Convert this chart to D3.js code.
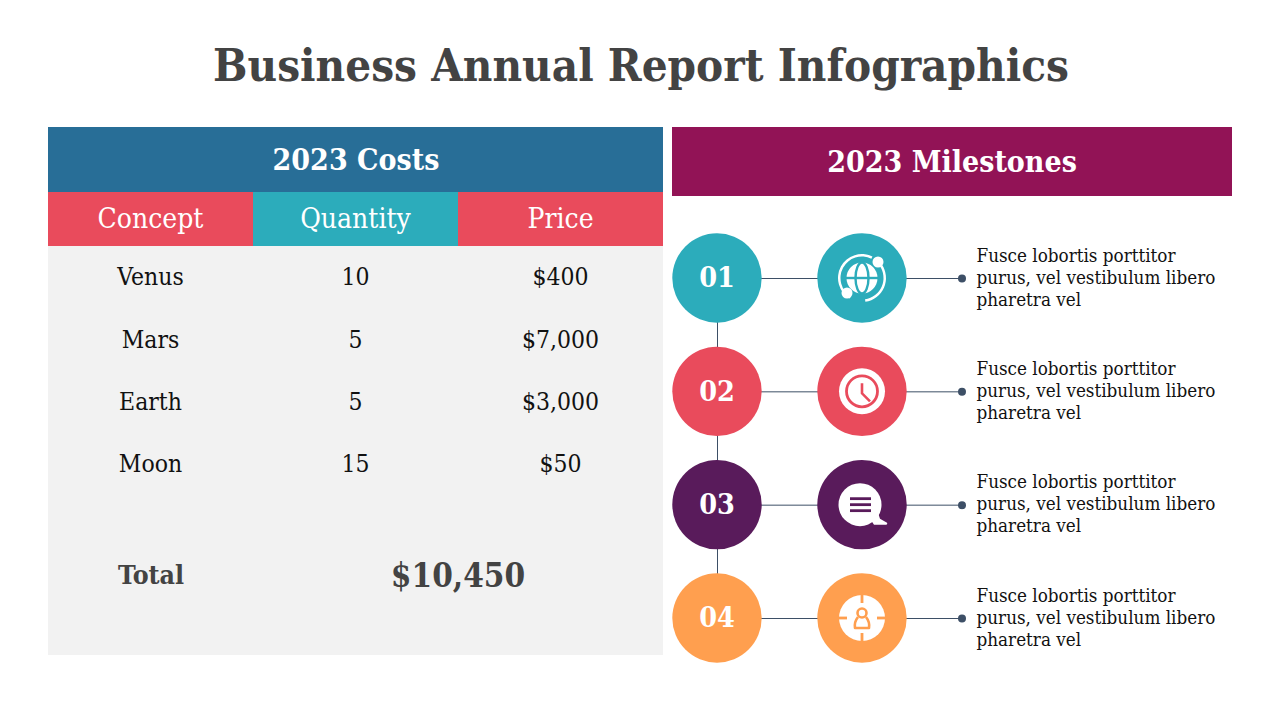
<!DOCTYPE html>
<html>
<head>
<meta charset="utf-8">
<script src="https://cdn.jsdelivr.net/npm/d3@7"></script>
<style>
  html, body { margin: 0; padding: 0; background: #fff; }
  text { font-family: "DejaVu Serif Condensed", "DejaVu Serif", serif; }
</style>
</head>
<body>
<div class="chart"></div>
<script>
var title = "Business Annual Report Infographics";
var costsTitle = "2023 Costs";
var milestonesTitle = "2023 Milestones";

var columns = ["Concept", "Quantity", "Price"];
var concepts = ["Venus", "Mars", "Earth", "Moon"];
var quantities = ["10", "5", "5", "15"];
var prices = ["$400", "$7,000", "$3,000", "$50"];
var totalLabel = "Total";
var totalValue = "$10,450";

var milestones = ["01", "02", "03", "04"];
var icons = ["globe", "clock", "chat", "person"];
var milestoneLines = ["Fusce lobortis porttitor", "purus, vel vestibulum libero", "pharetra vel"];

var teal = "#2cacbb", red = "#e94b5c", purple = "#591b5b", orange = "#ff9f4f";
var darkText = "#434343", lineColor = "#3d4f66";
var milestoneColors = [teal, red, purple, orange];
var columnColors = [red, teal, red];

var svg = d3.select(".chart")
  .append("svg")
  .attr("width", 1280)
  .attr("height", 720)
  .style("display", "block");

var xColumn = d3.scaleBand().domain(columns).range([48, 663]);
var yRow = d3.scalePoint().domain(concepts).range([277, 464]);
var yMilestone = d3.scalePoint().domain(milestones).range([278, 618]);

// Icons are all drawn around (0, 0), the centre of the circle
var drawIcon = {
  globe: function(g, color) {
    g.append("circle").attr("r", 15.5).attr("fill", "#fff");
    g.append("ellipse").attr("rx", 6.5).attr("ry", 15.5)
      .attr("fill", "none").attr("stroke", color).attr("stroke-width", 2.4);
    g.append("line").attr("x1", -16).attr("x2", 16)
      .attr("stroke", color).attr("stroke-width", 2.4);
    var orbit = d3.arc().innerRadius(21.5).outerRadius(24);
    g.append("path")
      .attr("d", orbit({startAngle: -2.6, endAngle: 0.45}))
      .attr("fill", "#fff");
    g.append("path")
      .attr("d", orbit({startAngle: 0.95, endAngle: 3.0}))
      .attr("fill", "#fff");
    g.append("circle").attr("cx", 16).attr("cy", -16).attr("r", 5.5).attr("fill", "#fff");
    g.append("circle").attr("cx", -15).attr("cy", 15).attr("r", 5.5).attr("fill", "#fff");
  },
  clock: function(g, color) {
    g.append("circle").attr("r", 23).attr("fill", "#fff");
    g.append("circle").attr("r", 15.5)
      .attr("fill", "none").attr("stroke", color).attr("stroke-width", 2.8);
    g.append("path")
      .attr("d", "M0,-8V2L8,10")
      .attr("fill", "none").attr("stroke", color).attr("stroke-width", 2.6);
  },
  chat: function(g, color) {
    g.append("circle").attr("cx", -2).attr("r", 21.5).attr("fill", "#fff");
    g.append("path")
      .attr("d", "M8,14L16,8L18,14L25,18Q26,20 23,20L12,20Z")
      .attr("fill", "#fff");
    [-6, 0, 6].forEach(function(y) {
      g.append("line")
        .attr("x1", -12).attr("x2", 9)
        .attr("y1", y).attr("y2", y)
        .attr("stroke", color).attr("stroke-width", 2.8);
    });
  },
  person: function(g, color) {
    g.append("circle").attr("r", 23).attr("fill", "#fff");
    [[0, -23, 0, -15], [0, 15, 0, 23], [-23, 0, -15, 0], [15, 0, 23, 0]].forEach(function(t) {
      g.append("line")
        .attr("x1", t[0]).attr("y1", t[1])
        .attr("x2", t[2]).attr("y2", t[3])
        .attr("stroke", color).attr("stroke-width", 2.8);
    });
    g.append("circle").attr("cy", -5).attr("r", 4.5)
      .attr("fill", "none").attr("stroke", color).attr("stroke-width", 2.6);
    g.append("path")
      .attr("d", "M-4,-1Q-8,4 -7,10H7Q8,4 4,-1")
      .attr("fill", "none").attr("stroke", color).attr("stroke-width", 2.6)
      .attr("stroke-linejoin", "round");
  }
};

// Title
svg.append("text")
  .attr("x", 641)
  .attr("y", 81)
  .attr("text-anchor", "middle")
  .attr("font-size", 45.3)
  .attr("font-weight", 700)
  .attr("fill", darkText)
  .text(title);

// Left table
svg.append("rect").attr("x", 48).attr("y", 246).attr("width", 615).attr("height", 409).attr("fill", "#f2f2f2");
svg.append("rect").attr("x", 48).attr("y", 127).attr("width", 615).attr("height", 65).attr("fill", "#286e97");

svg.append("text")
  .attr("x", 356)
  .attr("y", 170)
  .attr("text-anchor", "middle")
  .attr("font-size", 30)
  .attr("font-weight", 700)
  .attr("fill", "#fff")
  .text(costsTitle);

svg.selectAll("rect.column")
  .data(columns)
  .enter()
  .append("rect")
  .attr("class", "column")
  .attr("x", d => xColumn(d))
  .attr("y", 192)
  .attr("width", xColumn.bandwidth())
  .attr("height", 54)
  .attr("fill", (d, i) => columnColors[i]);

svg.selectAll("text.column")
  .data(columns)
  .enter()
  .append("text")
  .attr("class", "column")
  .attr("x", d => xColumn(d) + xColumn.bandwidth() / 2)
  .attr("y", 228)
  .attr("text-anchor", "middle")
  .attr("font-size", 28)
  .attr("fill", "#fff")
  .text(d => d);

var tableCols = [concepts, quantities, prices];
tableCols.forEach(function(values, c) {
  svg.selectAll("text.cell" + c)
    .data(values)
    .enter()
    .append("text")
    .attr("class", "cell" + c)
    .attr("x", xColumn(columns[c]) + xColumn.bandwidth() / 2)
    .attr("y", (d, i) => yRow(concepts[i]))
    .attr("dy", "0.34em")
    .attr("text-anchor", "middle")
    .attr("font-size", 24.5)
    .attr("fill", "#111")
    .text(d => d);
});

svg.append("text")
  .attr("x", 151)
  .attr("y", 584)
  .attr("text-anchor", "middle")
  .attr("font-size", 26.5)
  .attr("font-weight", 700)
  .attr("fill", darkText)
  .text(totalLabel);

svg.append("text")
  .attr("x", 458)
  .attr("y", 587)
  .attr("text-anchor", "middle")
  .attr("font-size", 33)
  .attr("font-weight", 700)
  .attr("fill", darkText)
  .text(totalValue);

// Right panel
svg.append("rect").attr("x", 672).attr("y", 127).attr("width", 560).attr("height", 69).attr("fill", "#921356");

svg.append("text")
  .attr("x", 952)
  .attr("y", 172)
  .attr("text-anchor", "middle")
  .attr("font-size", 30)
  .attr("font-weight", 700)
  .attr("fill", "#fff")
  .text(milestonesTitle);

// vertical connector behind the number circles
svg.append("line")
  .attr("x1", 717.5).attr("x2", 717.5)
  .attr("y1", yMilestone(milestones[0]))
  .attr("y2", yMilestone(milestones[3]))
  .attr("stroke", lineColor)
  .attr("stroke-width", 1);

var rows = svg.selectAll("g.milestone")
  .data(milestones)
  .enter()
  .append("g")
  .attr("class", "milestone")
  .attr("transform", d => `translate(0, ${yMilestone(d)})`);

rows.append("line")
  .attr("x1", 717).attr("x2", 962)
  .attr("y1", 0.5).attr("y2", 0.5)
  .attr("stroke", lineColor)
  .attr("stroke-width", 1);

rows.append("circle")
  .attr("cx", 962).attr("cy", 0.5).attr("r", 4)
  .attr("fill", lineColor);

rows.append("circle")
  .attr("cx", 717).attr("r", 44.7)
  .attr("fill", (d, i) => milestoneColors[i]);

rows.append("circle")
  .attr("cx", 862).attr("r", 44.7)
  .attr("fill", (d, i) => milestoneColors[i]);

rows.append("text")
  .attr("x", 717)
  .attr("y", -1)
  .attr("dy", "0.36em")
  .attr("text-anchor", "middle")
  .attr("font-size", 28.5)
  .attr("font-weight", 700)
  .attr("fill", "#fff")
  .text(d => d);

rows.each(function(d, i) {
  var txt = d3.select(this).append("text")
    .attr("font-size", 18.7)
    .attr("fill", "#111");
  milestoneLines.forEach(function(line, k) {
    txt.append("tspan")
      .attr("x", 976.5)
      .attr("y", -16.5 + k * 22)
      .text(line);
  });
  var g = d3.select(this).append("g").attr("transform", "translate(862, 0)");
  drawIcon[icons[i]](g, milestoneColors[i]);
});
</script>
</body>
</html>
